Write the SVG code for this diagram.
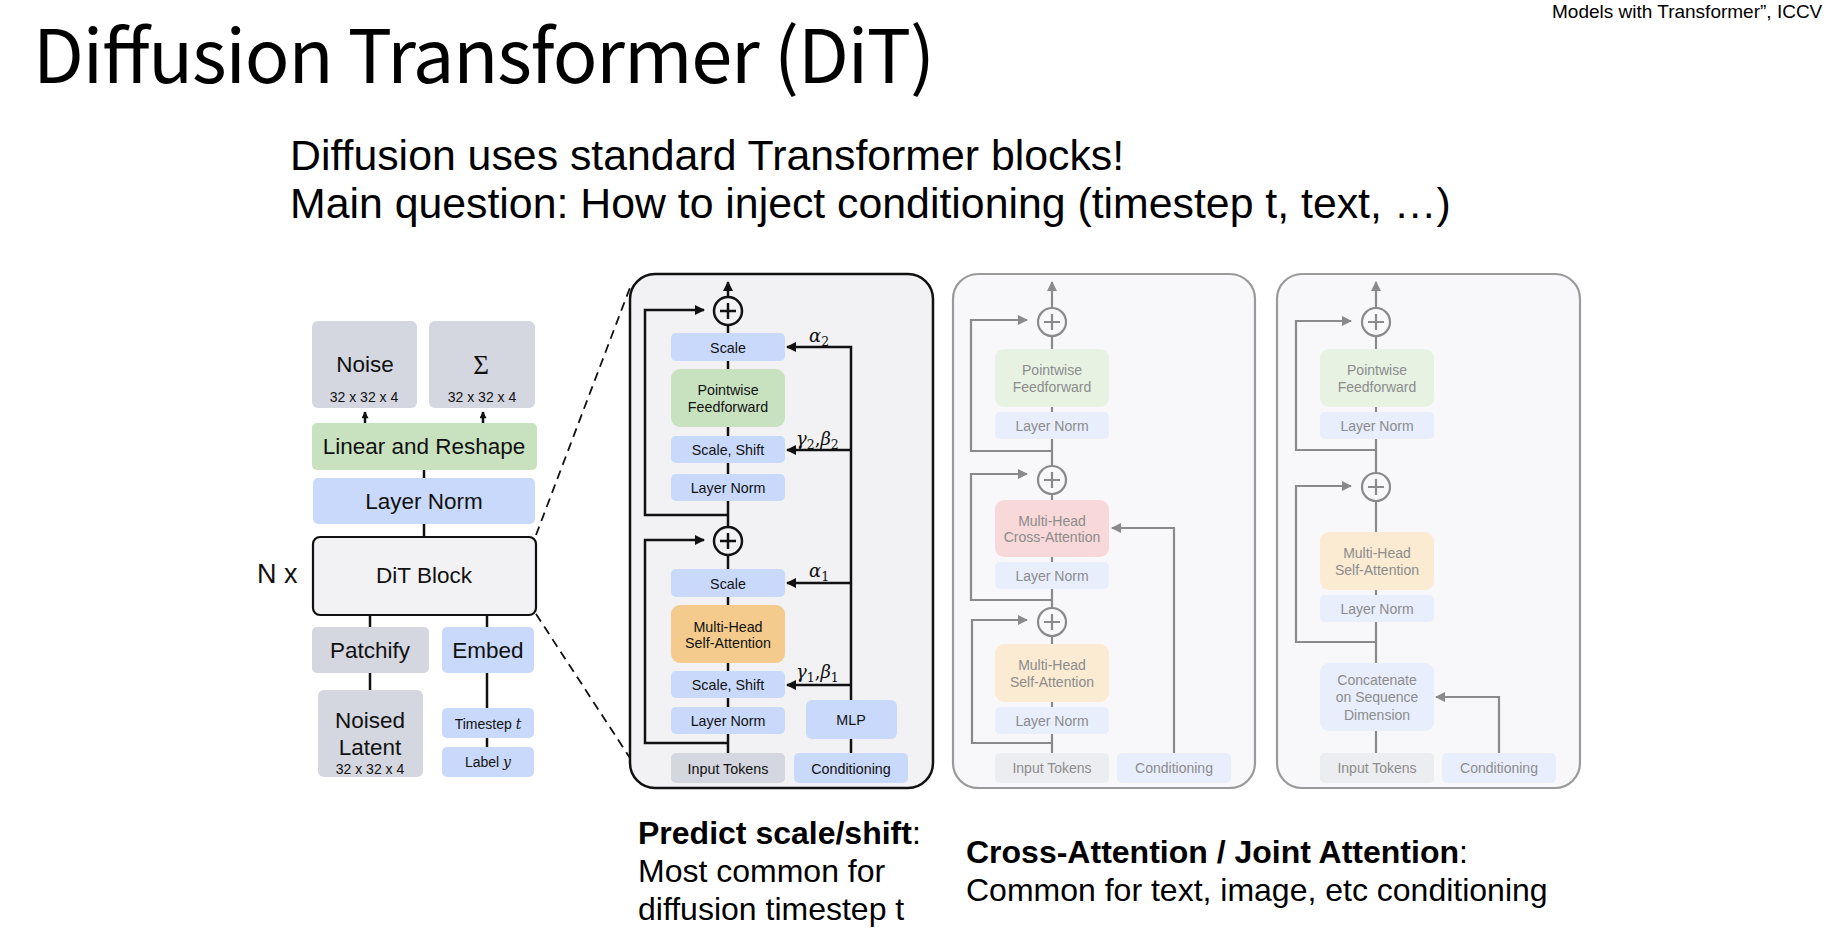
<svg xmlns="http://www.w3.org/2000/svg" width="1826" height="946" viewBox="0 0 1826 946">
<style>
.sans{font-family:"Liberation Sans",Arial,sans-serif}
.c{text-anchor:middle}
.t14{font-size:14.3px;fill:#111}
.tf{font-size:14px;fill:#8c8c8c}
.t22{font-size:22.5px;fill:#111}
.small{font-size:14px;fill:#111}
.gray{fill:#d4d6e0}
.blue{fill:#c9d9fb}
.green{fill:#c8e2c0}
.orange{fill:#f4cb8c}
.fblue{fill:#e8eefc}
.fgreen{fill:#e7f2e3}
.forange{fill:#fbebd3}
.fpink{fill:#f8d8d8}
.fgray{fill:#ecedf0}
.ln{stroke:#111;stroke-width:2.5;fill:none}
.lg{stroke:#8a8a8a;stroke-width:2.2;fill:none}
.math{font-family:"DejaVu Serif","Liberation Serif",serif;font-style:italic;font-size:18px;fill:#111}
.sub{font-style:normal;font-size:12.5px}
.dash{stroke:#111;stroke-width:1.8;stroke-dasharray:9 6;fill:none}
.cap{font-size:32px;fill:#000}
</style>
<defs>
<marker id="ah" viewBox="0 0 10 10" refX="9" refY="5" markerWidth="11" markerHeight="10" markerUnits="userSpaceOnUse" orient="auto"><path d="M0,0 L10,5 L0,10 z" fill="#111"/></marker>
<marker id="ahs" viewBox="0 0 10 10" refX="9" refY="5" markerWidth="8" markerHeight="7" markerUnits="userSpaceOnUse" orient="auto"><path d="M0,0 L10,5 L0,10 z" fill="#111"/></marker>
<marker id="ahg" viewBox="0 0 10 10" refX="9" refY="5" markerWidth="11" markerHeight="10" markerUnits="userSpaceOnUse" orient="auto"><path d="M0,0 L10,5 L0,10 z" fill="#8a8a8a"/></marker>
</defs>
<rect width="1826" height="946" fill="#ffffff"/>

<!-- Titles -->
<g id="title">
<text x="33" y="83" font-family="'Noto Sans CJK JP','Noto Sans',sans-serif" font-size="74" fill="#000" textLength="902">Diffusion Transformer (DiT)</text>
</g>
<g id="citation">
<text class="sans" x="1552" y="18" font-size="19" fill="#000">Models with Transformer”, ICCV 2</text>
</g>
<g id="subtitle">
<text class="sans" x="290" y="170" font-size="42.8" fill="#000">Diffusion uses standard Transformer blocks!</text>
<text class="sans" x="290" y="218" font-size="42.8" fill="#000">Main question: How to inject conditioning (timestep t, text, …)</text>
</g>

<!-- Panels backgrounds -->
<g id="panel-adaln">
<rect x="630" y="274" width="303" height="514" rx="25" fill="#f2f2f4" stroke="#111" stroke-width="2.5"/>
</g>
<g id="panel-cross">
<rect x="953" y="274" width="302" height="514" rx="25" fill="#f8f8fa" stroke="#9a9a9a" stroke-width="2.2"/>
</g>
<g id="panel-joint">
<rect x="1277" y="274" width="303" height="514" rx="25" fill="#f8f8fa" stroke="#9a9a9a" stroke-width="2.2"/>
</g>

<!-- Connectors -->
<g id="connectors">
<!-- left diagram -->
<line class="ln" x1="365" y1="423" x2="365" y2="412" marker-end="url(#ahs)" stroke-width="2"/>
<line class="ln" x1="483" y1="423" x2="483" y2="412" marker-end="url(#ahs)" stroke-width="2"/>
<line class="ln" x1="424" y1="470" x2="424" y2="478" stroke-width="2"/>
<line class="ln" x1="424" y1="524" x2="424" y2="537" stroke-width="2"/>
<line class="ln" x1="370" y1="615" x2="370" y2="627" stroke-width="2"/>
<line class="ln" x1="487" y1="615" x2="487" y2="627" stroke-width="2"/>
<line class="ln" x1="370" y1="673" x2="370" y2="690" stroke-width="2"/>
<line class="ln" x1="487" y1="673" x2="487" y2="708" stroke-width="2"/>
<line class="ln" x1="487" y1="738" x2="487" y2="747" stroke-width="2"/>
<!-- zoom dashed lines -->
<line class="dash" x1="536" y1="535" x2="631" y2="285"/>
<line class="dash" x1="536" y1="614" x2="630" y2="758"/>
<!-- panel 1 -->
<line class="ln" x1="728" y1="753" x2="728" y2="282" marker-end="url(#ah)"/>
<polyline class="ln" points="728,515 645,515 645,310 704,310" marker-end="url(#ah)"/>
<polyline class="ln" points="728,743 645,743 645,540 704,540" marker-end="url(#ah)"/>
<line class="ln" x1="851" y1="753" x2="851" y2="739"/>
<polyline class="ln" points="851,700 851,347 787,347" marker-end="url(#ah)"/>
<line class="ln" x1="851" y1="450" x2="787" y2="450" marker-end="url(#ah)"/>
<line class="ln" x1="851" y1="583" x2="787" y2="583" marker-end="url(#ah)"/>
<line class="ln" x1="851" y1="685" x2="787" y2="685" marker-end="url(#ah)"/>
<!-- panel 2 -->
<line class="lg" x1="1052" y1="753" x2="1052" y2="282" marker-end="url(#ahg)"/>
<polyline class="lg" points="1052,451 971,451 971,320 1027,320" marker-end="url(#ahg)"/>
<polyline class="lg" points="1052,600 971,600 971,474 1027,474" marker-end="url(#ahg)"/>
<polyline class="lg" points="1052,743 972,743 972,620 1027,620" marker-end="url(#ahg)"/>
<polyline class="lg" points="1174,753 1174,528 1112,528" marker-end="url(#ahg)"/>
<!-- panel 3 -->
<line class="lg" x1="1376" y1="753" x2="1376" y2="282" marker-end="url(#ahg)"/>
<polyline class="lg" points="1376,450 1296,450 1296,321 1351,321" marker-end="url(#ahg)"/>
<polyline class="lg" points="1376,642 1296,642 1296,486 1351,486" marker-end="url(#ahg)"/>
<polyline class="lg" points="1499,753 1499,697 1436,697" marker-end="url(#ahg)"/>
</g>

<!-- Left diagram nodes -->
<g id="noise">
<rect class="gray" x="312" y="321" width="105" height="87" rx="6"/>
<text class="sans c t22" x="365" y="372">Noise</text>
<text class="sans c small" x="364" y="402">32 x 32 x 4</text>
</g>
<g id="sigma">
<rect class="gray" x="429" y="321" width="106" height="87" rx="6"/>
<text class="c" x="481" y="374" font-family="'Liberation Serif','DejaVu Serif',serif" font-size="27" fill="#111">Σ</text>
<text class="sans c small" x="482" y="402">32 x 32 x 4</text>
</g>
<g id="linear-reshape">
<rect class="green" x="312" y="423" width="225" height="47" rx="5"/>
<text class="sans c t22" x="424" y="454">Linear and Reshape</text>
</g>
<g id="layer-norm-final">
<rect class="blue" x="313" y="478" width="222" height="46" rx="5"/>
<text class="sans c t22" x="424" y="509">Layer Norm</text>
</g>
<g id="dit-block">
<rect x="313" y="537" width="223" height="78" rx="7" fill="#f2f2f4" stroke="#111" stroke-width="2.2"/>
<text class="sans c t22" x="424" y="583">DiT Block</text>
<text class="sans" x="257" y="583" font-size="27" fill="#111">N x</text>
</g>
<g id="patchify">
<rect class="gray" x="312" y="627" width="117" height="46" rx="5"/>
<text class="sans c t22" x="370" y="658">Patchify</text>
</g>
<g id="embed">
<rect class="blue" x="442" y="627" width="92" height="46" rx="5"/>
<text class="sans c t22" x="488" y="658">Embed</text>
</g>
<g id="noised-latent">
<rect class="gray" x="318" y="690" width="105" height="87" rx="6"/>
<text class="sans c t22" x="370" y="728">Noised</text>
<text class="sans c t22" x="370" y="755">Latent</text>
<text class="sans c small" x="370" y="774">32 x 32 x 4</text>
</g>
<g id="timestep">
<rect class="blue" x="442" y="708" width="92" height="30" rx="5"/>
<text class="sans c" x="488" y="729" font-size="14" fill="#111">Timestep <tspan font-family="'DejaVu Serif','Liberation Serif',serif" font-style="italic">t</tspan></text>
</g>
<g id="label">
<rect class="blue" x="442" y="747" width="92" height="30" rx="5"/>
<text class="sans c" x="488" y="767" font-size="14" fill="#111">Label <tspan font-family="'DejaVu Serif','Liberation Serif',serif" font-style="italic">y</tspan></text>
</g>

<!-- Panel 1 nodes -->
<g id="p1-add-top">
<circle cx="728" cy="311" r="14" fill="#f2f2f4" stroke="#111" stroke-width="2.5"/>
<path class="ln" d="M720,311 H736 M728,303 V319"/>
</g>
<g id="p1-scale2">
<rect class="blue" x="671" y="333" width="114" height="28" rx="5"/>
<text class="sans c t14" x="728" y="353">Scale</text>
</g>
<g id="p1-ff">
<rect class="green" x="671" y="369" width="114" height="58" rx="9"/>
<text class="sans c t14" x="728" y="395">Pointwise</text>
<text class="sans c t14" x="728" y="412">Feedforward</text>
</g>
<g id="p1-scaleshift2">
<rect class="blue" x="671" y="436" width="114" height="27" rx="5"/>
<text class="sans c t14" x="728" y="455">Scale, Shift</text>
</g>
<g id="p1-ln2">
<rect class="blue" x="671" y="474" width="114" height="27" rx="5"/>
<text class="sans c t14" x="728" y="493">Layer Norm</text>
</g>
<g id="p1-add-bottom">
<circle cx="728" cy="541" r="14" fill="#f2f2f4" stroke="#111" stroke-width="2.5"/>
<path class="ln" d="M720,541 H736 M728,533 V549"/>
</g>
<g id="p1-scale1">
<rect class="blue" x="671" y="569" width="114" height="28" rx="5"/>
<text class="sans c t14" x="728" y="589">Scale</text>
</g>
<g id="p1-attn">
<rect class="orange" x="671" y="605" width="114" height="58" rx="9"/>
<text class="sans c t14" x="728" y="632">Multi-Head</text>
<text class="sans c t14" x="728" y="648">Self-Attention</text>
</g>
<g id="p1-scaleshift1">
<rect class="blue" x="671" y="671" width="114" height="27" rx="5"/>
<text class="sans c t14" x="728" y="690">Scale, Shift</text>
</g>
<g id="p1-ln1">
<rect class="blue" x="671" y="707" width="114" height="27" rx="5"/>
<text class="sans c t14" x="728" y="726">Layer Norm</text>
</g>
<g id="p1-input">
<rect class="gray" x="671" y="753" width="114" height="30" rx="5"/>
<text class="sans c t14" x="728" y="774">Input Tokens</text>
</g>
<g id="p1-mlp">
<rect class="blue" x="806" y="700" width="91" height="39" rx="6"/>
<text class="sans c t14" x="851" y="725">MLP</text>
</g>
<g id="p1-cond">
<rect class="blue" x="794" y="753" width="114" height="30" rx="5"/>
<text class="sans c t14" x="851" y="774">Conditioning</text>
</g>
<g id="p1-labels">
<text class="math" x="809" y="342">α<tspan class="sub" dy="4">2</tspan></text>
<text class="math" x="796" y="445">γ<tspan class="sub" dy="4">2</tspan><tspan dy="-4" font-style="normal">,</tspan>β<tspan class="sub" dy="4">2</tspan></text>
<text class="math" x="809" y="577">α<tspan class="sub" dy="4">1</tspan></text>
<text class="math" x="796" y="678">γ<tspan class="sub" dy="4">1</tspan><tspan dy="-4" font-style="normal">,</tspan>β<tspan class="sub" dy="4">1</tspan></text>
</g>

<!-- Panel 2 nodes -->
<g id="p2-add3">
<circle cx="1052" cy="322" r="14" fill="#f8f8fa" stroke="#8a8a8a" stroke-width="2.2"/>
<path class="lg" d="M1044,322 H1060 M1052,314 V330"/>
</g>
<g id="p2-ff">
<rect class="fgreen" x="995" y="349" width="114" height="58" rx="9"/>
<text class="sans c tf" x="1052" y="375">Pointwise</text>
<text class="sans c tf" x="1052" y="392">Feedforward</text>
</g>
<g id="p2-ln3">
<rect class="fblue" x="995" y="412" width="114" height="27" rx="5"/>
<text class="sans c tf" x="1052" y="431">Layer Norm</text>
</g>
<g id="p2-add2">
<circle cx="1052" cy="480" r="14" fill="#f8f8fa" stroke="#8a8a8a" stroke-width="2.2"/>
<path class="lg" d="M1044,480 H1060 M1052,472 V488"/>
</g>
<g id="p2-cross">
<rect class="fpink" x="995" y="500" width="114" height="57" rx="9"/>
<text class="sans c tf" x="1052" y="526">Multi-Head</text>
<text class="sans c tf" x="1052" y="542">Cross-Attention</text>
</g>
<g id="p2-ln2">
<rect class="fblue" x="995" y="562" width="114" height="27" rx="5"/>
<text class="sans c tf" x="1052" y="581">Layer Norm</text>
</g>
<g id="p2-add1">
<circle cx="1052" cy="622" r="14" fill="#f8f8fa" stroke="#8a8a8a" stroke-width="2.2"/>
<path class="lg" d="M1044,622 H1060 M1052,614 V630"/>
</g>
<g id="p2-self">
<rect class="forange" x="995" y="644" width="114" height="58" rx="9"/>
<text class="sans c tf" x="1052" y="670">Multi-Head</text>
<text class="sans c tf" x="1052" y="687">Self-Attention</text>
</g>
<g id="p2-ln1">
<rect class="fblue" x="995" y="707" width="114" height="27" rx="5"/>
<text class="sans c tf" x="1052" y="726">Layer Norm</text>
</g>
<g id="p2-input">
<rect class="fgray" x="995" y="753" width="114" height="30" rx="5"/>
<text class="sans c tf" x="1052" y="773">Input Tokens</text>
</g>
<g id="p2-cond">
<rect class="fblue" x="1117" y="753" width="114" height="30" rx="5"/>
<text class="sans c tf" x="1174" y="773">Conditioning</text>
</g>

<!-- Panel 3 nodes -->
<g id="p3-add2">
<circle cx="1376" cy="322" r="14" fill="#f8f8fa" stroke="#8a8a8a" stroke-width="2.2"/>
<path class="lg" d="M1368,322 H1384 M1376,314 V330"/>
</g>
<g id="p3-ff">
<rect class="fgreen" x="1320" y="349" width="114" height="58" rx="9"/>
<text class="sans c tf" x="1377" y="375">Pointwise</text>
<text class="sans c tf" x="1377" y="392">Feedforward</text>
</g>
<g id="p3-ln2">
<rect class="fblue" x="1320" y="412" width="114" height="27" rx="5"/>
<text class="sans c tf" x="1377" y="431">Layer Norm</text>
</g>
<g id="p3-add1">
<circle cx="1376" cy="487" r="14" fill="#f8f8fa" stroke="#8a8a8a" stroke-width="2.2"/>
<path class="lg" d="M1368,487 H1384 M1376,479 V495"/>
</g>
<g id="p3-self">
<rect class="forange" x="1320" y="532" width="114" height="58" rx="9"/>
<text class="sans c tf" x="1377" y="558">Multi-Head</text>
<text class="sans c tf" x="1377" y="575">Self-Attention</text>
</g>
<g id="p3-ln1">
<rect class="fblue" x="1320" y="595" width="114" height="27" rx="5"/>
<text class="sans c tf" x="1377" y="614">Layer Norm</text>
</g>
<g id="p3-concat">
<rect class="fblue" x="1320" y="663" width="114" height="68" rx="9"/>
<text class="sans c tf" x="1377" y="685">Concatenate</text>
<text class="sans c tf" x="1377" y="702">on Sequence</text>
<text class="sans c tf" x="1377" y="720">Dimension</text>
</g>
<g id="p3-input">
<rect class="fgray" x="1320" y="753" width="114" height="30" rx="5"/>
<text class="sans c tf" x="1377" y="773">Input Tokens</text>
</g>
<g id="p3-cond">
<rect class="fblue" x="1442" y="753" width="114" height="30" rx="5"/>
<text class="sans c tf" x="1499" y="773">Conditioning</text>
</g>

<!-- Captions -->
<g id="caption-scale-shift">
<text class="sans cap" x="638" y="844"><tspan font-weight="bold">Predict scale/shift</tspan>:</text>
<text class="sans cap" x="638" y="882">Most common for</text>
<text class="sans cap" x="638" y="920">diffusion timestep t</text>
</g>
<g id="caption-cross">
<text class="sans cap" x="966" y="863"><tspan font-weight="bold">Cross-Attention / Joint Attention</tspan>:</text>
<text class="sans cap" x="966" y="901">Common for text, image, etc conditioning</text>
</g>
</svg>
